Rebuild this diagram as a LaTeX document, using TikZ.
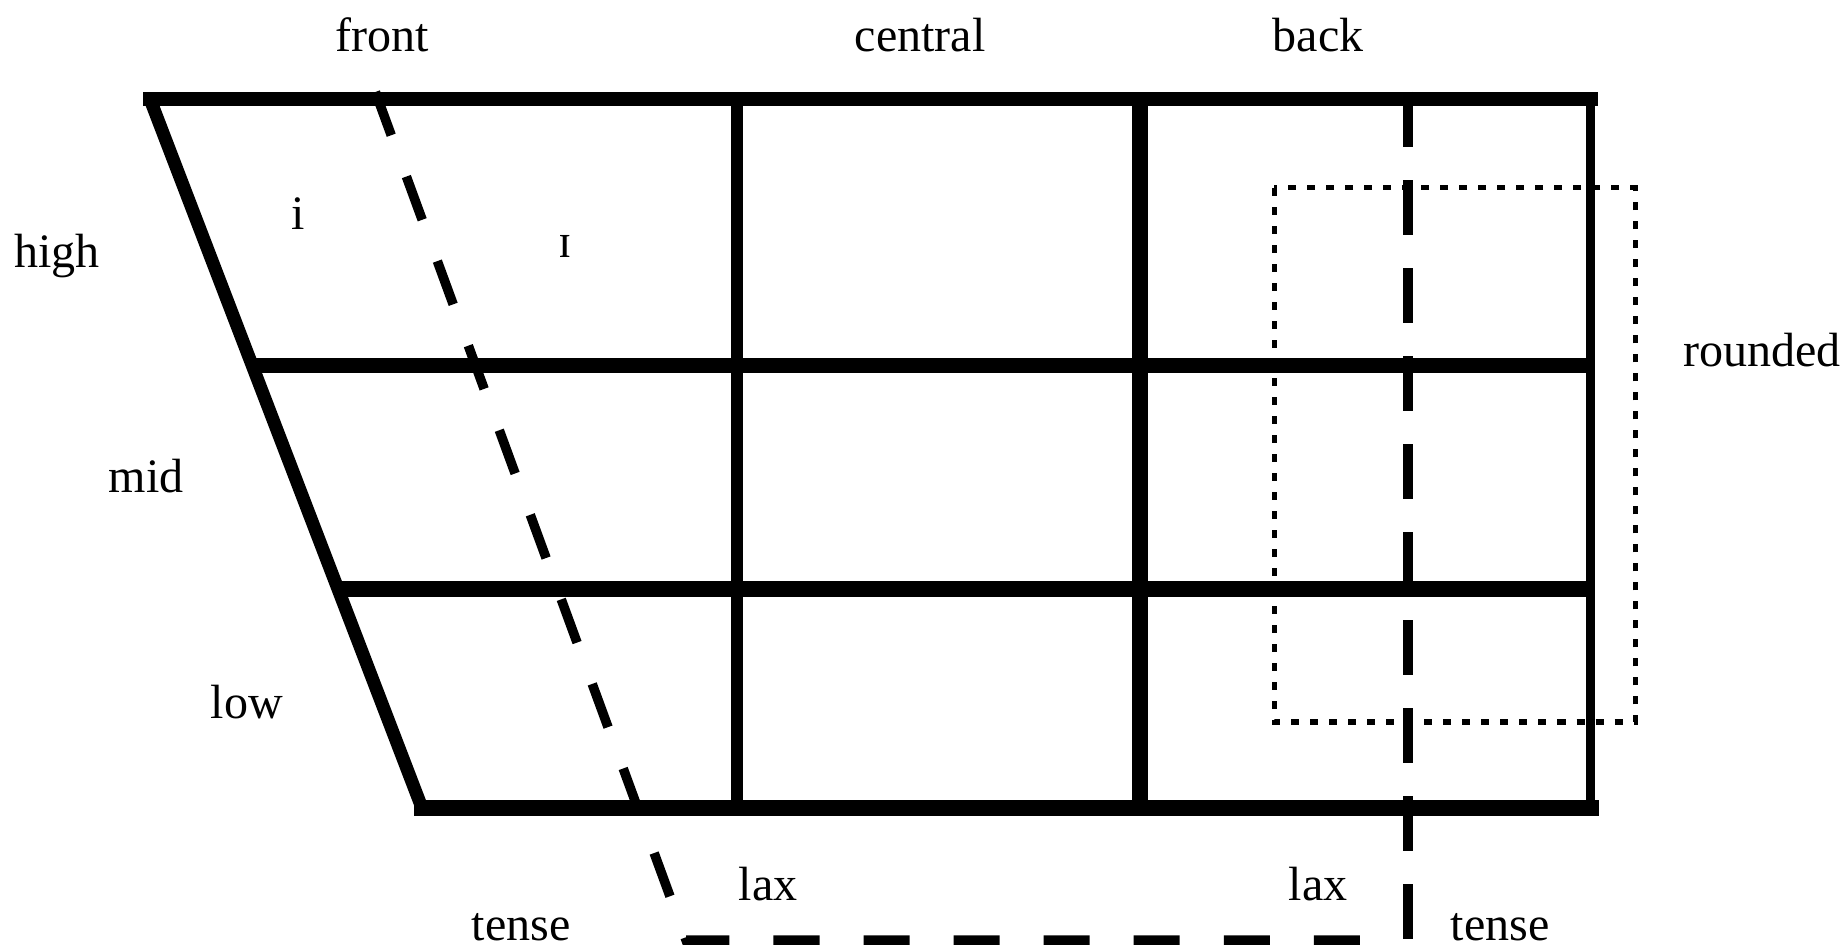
\documentclass[tikz,border=0pt]{standalone}
\usepackage{fontspec}
\setmainfont{Liberation Serif}
\begin{document}
\begin{tikzpicture}[x=0.01cm,y=-0.01cm,
  lbl/.style={anchor=base, inner sep=0pt, font=\fontsize{13.66pt}{16pt}\selectfont},
  gridline/.style={draw=black, line cap=butt},
  dashline/.style={draw=black, line width=0.095cm, dash pattern=on 0.46cm off 0.44cm, line join=miter},
  vdash/.style={draw=black, line width=0.10cm, dash pattern=on 0.55cm off 0.33cm},
  dotbox/.style={draw=black, line width=0.05cm, dash pattern=on 0.08cm off 0.11cm}]
\useasboundingbox (0,0) rectangle (1845,952);
% frame coordinates
\coordinate (tl) at (150,99);
\coordinate (bl) at (422,808);
\coordinate (tr) at (1590.5,99);
\coordinate (br) at (1590.5,808);
\coordinate (h1l) at (252.2,365.5);
\coordinate (h1r) at (1590.5,365.5);
\coordinate (h2l) at (338,589);
\coordinate (h2r) at (1590.5,589);
\coordinate (v1t) at (736.5,99);
\coordinate (v1b) at (736.5,808);
\coordinate (v2t) at (1140,99);
\coordinate (v2b) at (1140,808);
% frame
\draw[gridline, line width=0.14cm, line cap=rect] (tl) -- (tr);
\draw[gridline, line width=0.16cm, line cap=rect] (bl) -- (br);
\draw[gridline, line width=0.09cm, line cap=rect] (tr) -- (br);
\draw[gridline, line width=0.13cm] (tl) -- (bl);
\draw[gridline, line width=0.14cm] (h1l) -- (h1r);
\draw[gridline, line width=0.16cm] (h2l) -- (h2r);
\draw[gridline, line width=0.12cm] (v1t) -- (v1b);
\draw[gridline, line width=0.16cm] (v2t) -- (v2b);
% tense/lax boundaries
\coordinate (ds) at (375.4,92);
\coordinate (dc) at (686,940);
\coordinate (de) at (1365,940);
\draw[dashline] (ds) -- (dc) -- (de);
\coordinate (vs) at (1408,92);
\coordinate (ve) at (1408,965);
\draw[vdash] (vs) -- (ve);
% rounded box
\coordinate (r1) at (1274,188);
\coordinate (r2) at (1635,722);
\draw[dotbox] (r1) rectangle (r2);
% labels
\node[lbl] (front) at (382,52) {front};
\node[lbl] (central) at (920,52) {central};
\node[lbl] (back) at (1318,52) {back};
\node[lbl] (high) at (57,268) {high};
\node[lbl] (mid) at (146,492) {mid};
\node[lbl] (low) at (247,718) {low};
\node[lbl] (rounded) at (1762,367) {rounded};
\node[lbl] (vi) at (298,230) {i};
\node[lbl] (vI) at (565,258) {ɪ};
\node[lbl] (lax1) at (768,900) {lax};
\node[lbl] (lax2) at (1318,900) {lax};
\node[lbl] (tense1) at (521,940) {tense};
\node[lbl] (tense2) at (1500,940) {tense};
\end{tikzpicture}
\end{document}
